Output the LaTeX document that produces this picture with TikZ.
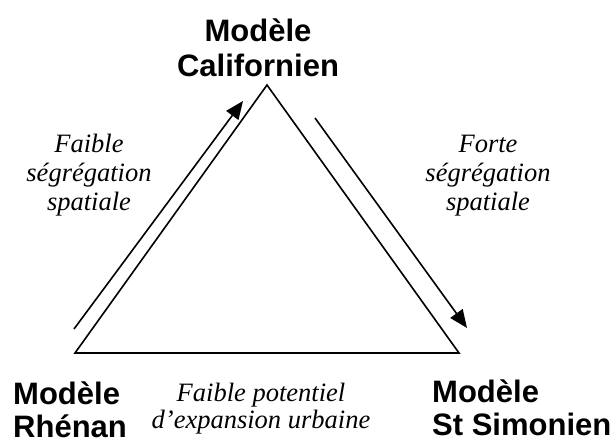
\documentclass[tikz,border=0pt]{standalone}
\usepackage{fontspec}
\setmainfont{Liberation Serif}
\newfontfamily\boldsans{Liberation Sans}
\usetikzlibrary{arrows.meta}
\tikzset{
  model/.style={font=\boldsans\bfseries\fontsize{31}{34}\selectfont, inner sep=0pt, align=left},
  effect/.style={font=\itshape\fontsize{26.5}{29}\selectfont, inner sep=0pt, align=center},
  side/.style={line width=1.6pt, line join=miter},
  trend/.style={line width=1.6pt, -{Triangle[length=18pt,width=15pt]}}
}
\begin{document}
\begin{tikzpicture}[x=1pt,y=-1pt]
\useasboundingbox (0,0) rectangle (616,443);
% triangle corners
\coordinate (top) at (267,85);
\coordinate (bl) at (75,353);
\coordinate (br) at (459,353);
\draw[side] (top) -- (br) -- (bl) -- cycle;
% arrows
\coordinate (la) at (74,329);
\coordinate (lb) at (243,101);
\coordinate (ra) at (315,118);
\coordinate (rb) at (467,328);
\draw[trend] (la) -- (lb);
\draw[trend] (ra) -- (rb);
% labels
\node[model, align=center, anchor=base, font=\boldsans\bfseries\fontsize{31}{35}\selectfont] (cal) at (258,76.7) {Modèle\\Californien};
\node[model, anchor=base west, font=\boldsans\bfseries\fontsize{31}{33}\selectfont] (rhe) at (13,438) {Modèle\\Rhénan};
\node[model, anchor=base west, font=\boldsans\bfseries\fontsize{31}{33}\selectfont] (sts) at (432,436) {Modèle\\St Simonien};
\node[effect, anchor=base] (fa) at (89,211) {Faible\\ségrégation\\spatiale};
\node[effect, anchor=base] (fo) at (488,211) {Forte\\ségrégation\\spatiale};
\node[effect, anchor=base, font=\itshape\fontsize{26.5}{27}\selectfont] (pot) at (261,429) {Faible potentiel\\d’expansion urbaine};
\end{tikzpicture}
\end{document}
